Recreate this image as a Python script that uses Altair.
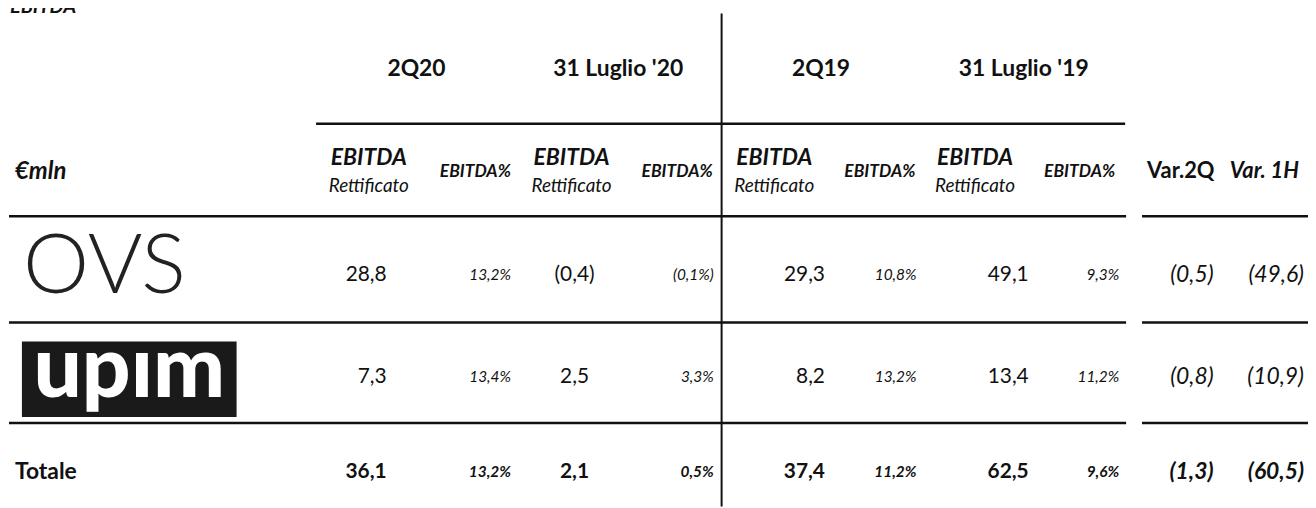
import altair as alt
import pandas as pd

FONT = "Lato"
INK = "#111111"

# ---------------- data (text content of the table) ----------------
title_text = "EBITDA"
group_headers = ["2Q20", "31 Luglio '20", "2Q19", "31 Luglio '19"]
unit_label = "€mln"
main_header = "EBITDA"
sub_header = "Rettificato"
pct_header = "EBITDA%"
var_headers = ["Var.2Q", "Var. 1H"]
row_labels = ["OVS", "upım", "Totale"]

ovs_values = ["28,8", "13,2%", "(0,4)", "(0,1%)", "29,3", "10,8%", "49,1", "9,3%", "(0,5)", "(49,6)"]
upim_values = ["7,3", "13,4%", "2,5", "3,3%", "8,2", "13,2%", "13,4", "11,2%", "(0,8)", "(10,9)"]
totale_values = ["36,1", "13,2%", "2,1", "0,5%", "37,4", "11,2%", "62,5", "9,6%", "(1,3)", "(60,5)"]
col_kinds = ["eb", "pct", "eb", "pct", "eb", "pct", "eb", "pct", "var", "var"]

# ---------------- layout (page pixel positions of the table grid) ----------------
GROUP_X = [419, 622, 826, 1030]
GROUP_Y = 68
EB_HEAD_X = [371, 575, 779, 981]
PCT_HEAD_X = [514, 717, 921, 1122]
VAR_HEAD_X = [1188, 1272]
HEAD_Y_MAIN, HEAD_Y_SUB, HEAD_Y_MID = 157, 186, 171
VAL_X = [389, 514, 578, 718, 830, 922, 1035, 1126, 1221, 1312]
VAL_ALIGN = ["right", "right", "center", "right", "right", "right", "right", "right", "right", "right"]
ROW_Y = [275, 378, 473]

cells = []


def add(x, y, text, size, weight="normal", style="normal", align="center", color=INK, baseline="middle"):
    cells.append(dict(x=x, y=y, text=text, size=size, weight=weight, style=style,
                      align=align, color=color, baseline=baseline))


add(10, 11, title_text, 20, "bold", "italic", "left", baseline="alphabetic")
for gx, g in zip(GROUP_X, group_headers):
    add(gx, GROUP_Y, g, 23, "bold")
add(15, 172, unit_label, 24, "bold", "italic", "left")
for ex in EB_HEAD_X:
    add(ex, HEAD_Y_MAIN, main_header, 23, "bold", "italic")
    add(ex, HEAD_Y_SUB, sub_header, 19, "normal", "italic")
for px in PCT_HEAD_X:
    add(px, HEAD_Y_MID, pct_header, 17.5, "bold", "italic", "right")
add(VAR_HEAD_X[0], HEAD_Y_MID, var_headers[0], 22, "bold", "normal")
add(VAR_HEAD_X[1], HEAD_Y_MID, var_headers[1], 22, "bold", "italic")

# row labels
add(23, 268, row_labels[0], 84, 300, "normal", "left", color="#222222")
add(130, 372, row_labels[1], 86, 900, "normal", "center", color="#ffffff")
add(15, ROW_Y[2], row_labels[2], 23, "bold", "normal", "left")

for ri, vals in enumerate([ovs_values, upim_values, totale_values]):
    bold = ri == 2
    for ci, v in enumerate(vals):
        kind = col_kinds[ci]
        if kind == "eb":
            size, style = 21, "normal"
        elif kind == "pct":
            size, style = 15.5, "italic"
        else:
            size, style = 23, "italic"
        add(VAL_X[ci], ROW_Y[ri], v, size, "bold" if bold else "normal", style, VAL_ALIGN[ci])

cells_df = pd.DataFrame(cells)

rules_df = pd.DataFrame([
    dict(x=318, x2=1132, y=123, y2=123, w=2.5),
    dict(x=9, x2=1133, y=216, y2=216, w=2.5),
    dict(x=1149, x2=1316, y=216, y2=216, w=2.5),
    dict(x=9, x2=1133, y=323, y2=323, w=2.5),
    dict(x=1149, x2=1316, y=323, y2=323, w=2.5),
    dict(x=9, x2=1133, y=424, y2=424, w=2.5),
    dict(x=1149, x2=1316, y=424, y2=424, w=2.5),
    dict(x=726, x2=726, y=12, y2=508, w=2),
])

logo_df = pd.DataFrame([dict(x=22, x2=238, y=342, y2=418)])

XS = alt.Scale(domain=[8, 1316], nice=False, zero=False)
YS = alt.Scale(domain=[8, 508], nice=False, zero=False, reverse=True)

layers = []

layers.append(
    alt.Chart(rules_df).mark_rule(color=INK).encode(
        x=alt.X("x:Q", scale=XS, axis=None),
        x2="x2:Q",
        y=alt.Y("y:Q", scale=YS, axis=None),
        y2="y2:Q",
        strokeWidth=alt.StrokeWidth("w:Q", scale=None),
    )
)

layers.append(
    alt.Chart(logo_df).mark_rect(color="#1a1a1a").encode(
        x=alt.X("x:Q", scale=XS, axis=None),
        x2="x2:Q",
        y=alt.Y("y:Q", scale=YS, axis=None),
        y2="y2:Q",
    )
)

groups = cells_df.groupby(["weight", "style", "align", "color", "baseline"], sort=False)
for (weight, style, align, color, baseline), sub in groups:
    layers.append(
        alt.Chart(sub.reset_index(drop=True)).mark_text(
            font=FONT, fontWeight=weight, fontStyle=style, align=align,
            baseline=baseline, color=color,
        ).encode(
            x=alt.X("x:Q", scale=XS, axis=None),
            y=alt.Y("y:Q", scale=YS, axis=None),
            text="text:N",
            size=alt.Size("size:Q", scale=None, legend=None),
        )
    )

chart = alt.layer(*layers).properties(
    width=1308, height=500, padding=0, autosize="none"
).configure_view(stroke=None)

chart.save("out.html", embed_options={"renderer": "svg", "actions": False})
